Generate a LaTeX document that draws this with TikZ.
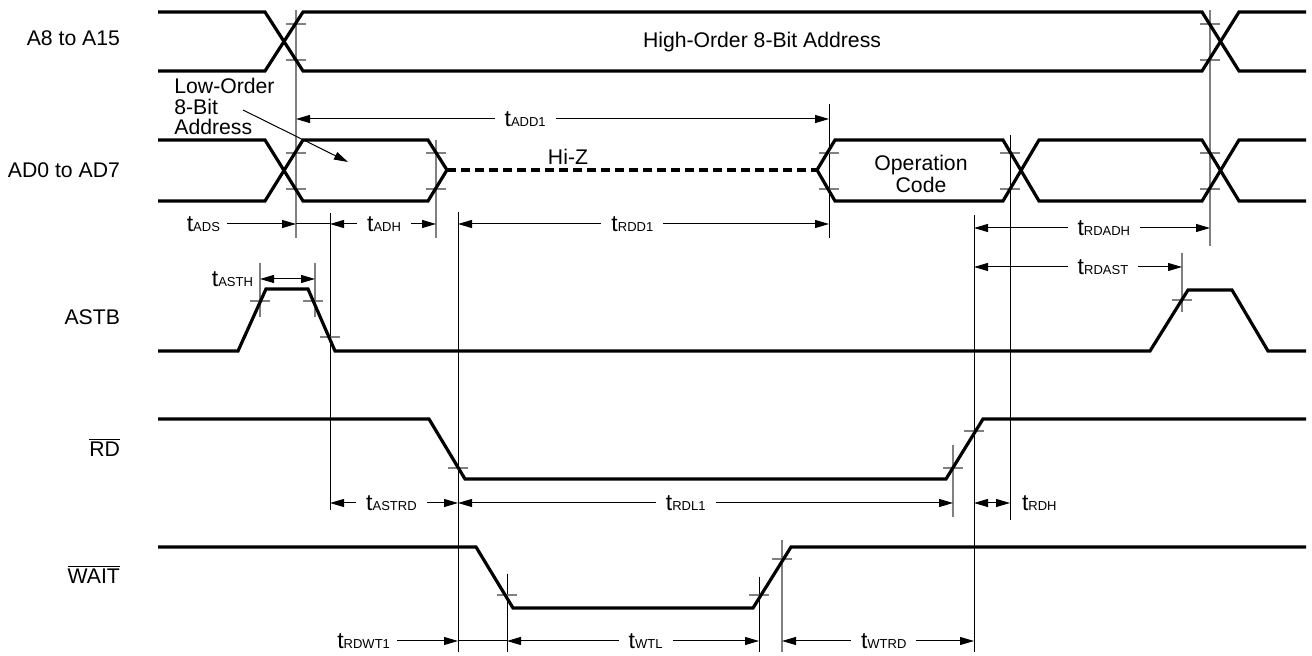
\documentclass[tikz,border=0pt]{standalone}
\usepackage{fontspec}
\setmainfont{Liberation Sans}
\usetikzlibrary{arrows.meta}

\newcommand{\tsub}[1]{{\fontsize{11.5}{12}\selectfont t}{\fontsize{6.5}{7}\selectfont #1}}
\newcommand{\ovl}[1]{$\overline{\mbox{#1}}$}

\begin{document}
\begin{tikzpicture}[x=0.5pt, y=-0.5pt, font=\fontsize{10.6}{10.8}\selectfont,
        sig/.style={line width=1.6pt},
        guide/.style={line width=0.5pt},
        gguide/.style={line width=0.6pt, gray},
        tickmark/.style={line width=0.6pt, gray},
        dim/.style={line width=0.5pt, {Triangle[length=7pt,width=4pt]}-{Triangle[length=7pt,width=4pt]}},
        dimr/.style={line width=0.5pt, -{Triangle[length=7pt,width=4pt]}},
        gap/.style={fill=white, inner xsep=5pt, inner ysep=1pt}]
            \useasboundingbox (0,0) rectangle (1312,656);

            % guide lines
            \foreach \x/\a/\b in {296/10/238, 1210/10/246, 436/140/238, 1182/253/312,
                                  260/263/317, 315/263/317, 953/445/517, 782/540/652}
                \draw[gguide] (\x,\a) -- (\x,\b);
            \foreach \x/\a/\b in {829/104/238, 1010/135/520, 974/215/652, 330/213/510,
                                  458/212/652, 507/574/652, 759/577/652}
                \draw[guide] (\x,\a) -- (\x,\b);

            % level marks
            \foreach \x/\y in {296/24, 296/60, 1210/24, 1210/60, 296/153, 296/189,
                               436/153, 436/189, 829/153, 829/189, 1010/153, 1010/189,
                               1210/153, 1210/189, 260/301, 313/301, 330/337, 1182/300,
                               458/468, 953/468, 974/431, 507/595, 759/595, 782/559}
                \draw[tickmark] (\x,\y) ++(-10,0) -- ++(20,0);

            % signals
            \draw[sig] (158,12) -- (265,12) -- (303,71) -- (1202,71) -- (1239,12) -- (1306,12);
            \draw[sig] (158,71) -- (265,71) -- (303,12) -- (1202,12) -- (1239,71) -- (1306,71);

            \draw[sig] (158,140) -- (265,140) -- (303,201) -- (428,201) -- (447,170)
                -- (428,140) -- (303,140) -- (265,201) -- (158,201);
            \draw[sig, dash pattern=on 4.5pt off 2.5pt] (447,170) -- (817,170);
            \draw[sig] (817,170) -- (835,140) -- (1003,140) -- (1039,201) -- (1202,201) -- (1239,140) -- (1306,140);
            \draw[sig] (817,170) -- (835,201) -- (1003,201) -- (1039,140) -- (1202,140) -- (1239,201) -- (1306,201);

            \draw[sig] (158,351) -- (238,351) -- (266,289) -- (308,289) -- (335,351)
                -- (1150,351) -- (1188,290) -- (1232,290) -- (1268,351) -- (1306,351);
            \draw[sig] (158,419) -- (429,419) -- (465,479) -- (946,479) -- (983,419) -- (1306,419);
            \draw[sig] (158,547) -- (476,547) -- (513,608) -- (753,608) -- (791,547) -- (1306,547);

            % signal names
            \node[anchor=east] (a8) at (127,38) {A8 to A15};
            \node[anchor=east] (ad0) at (127,170) {AD0 to AD7};
            \node[anchor=east] (astb) at (127,317) {ASTB};
            \node[anchor=east] (rd) at (127,447) {\ovl{RD}};
            \node[anchor=east] (wait) at (127,574) {\ovl{WAIT}};

            \node (high) at (762,42) {High-Order 8-Bit Address};
            \node (hiz) at (568,157) {Hi-Z};
            \node[align=center] (opcode) at (921,174) {Operation\\Code};
            \node[align=left, anchor=north west, inner sep=0pt,
                  font=\fontsize{10.6}{10.3}\selectfont] (loword) at (174,78) {Low-Order\\8-Bit\\Address};
            \draw[line width=0.5pt, -{Triangle[length=7pt,width=4pt]}] (243,110) -- (348,162);

            % timings
            \draw[dim] (296,119) -- node[gap, pos=0.43] (tadd) {\tsub{ADD1}} (829,119);

            \node[anchor=east] (tads) at (227,224) {\tsub{ADS}};
            \draw[dimr] (tads.east) -- (296,224);
            \draw[guide] (296,224) -- (330,224);
            \draw[dim] (330,224) -- node[gap, pos=0.51] (tadh) {\tsub{ADH}} (436,224);
            \draw[dim] (458,224) -- node[gap, pos=0.47] (trdd) {\tsub{RDD1}} (829,224);
            \draw[dim] (974,228) -- node[gap, pos=0.55] (trdadh) {\tsub{RDADH}} (1210,228);
            \draw[dim] (974,267) -- node[gap, pos=0.62] (trdast) {\tsub{RDAST}} (1182,267);

            \node[anchor=east] (tasth) at (260,279) {\tsub{ASTH}};
            \draw[dim] (260,279) -- (315,279);

            \draw[dim] (330,503) -- node[gap, pos=0.48] (tastrd) {\tsub{ASTRD}} (458,503);
            \draw[dim] (458,503) -- node[gap, pos=0.46] (trdl) {\tsub{RDL1}} (953,503);
            \draw[dim] (974,503) -- (1010,503);
            \node[anchor=west] (trdh) at (1015,503) {\tsub{RDH}};

            \node[anchor=east] (trdwt) at (397,641) {\tsub{RDWT1}};
            \draw[dimr] (trdwt.east) -- (458,641);
            \draw[guide] (458,641) -- (507,641);
            \draw[dim] (507,641) -- node[gap, pos=0.55] (twtl) {\tsub{WTL}} (759,641);
            \draw[dim] (782,641) -- node[gap, pos=0.53] (twtrd) {\tsub{WTRD}} (974,641);
        \end{tikzpicture}
\end{document}
